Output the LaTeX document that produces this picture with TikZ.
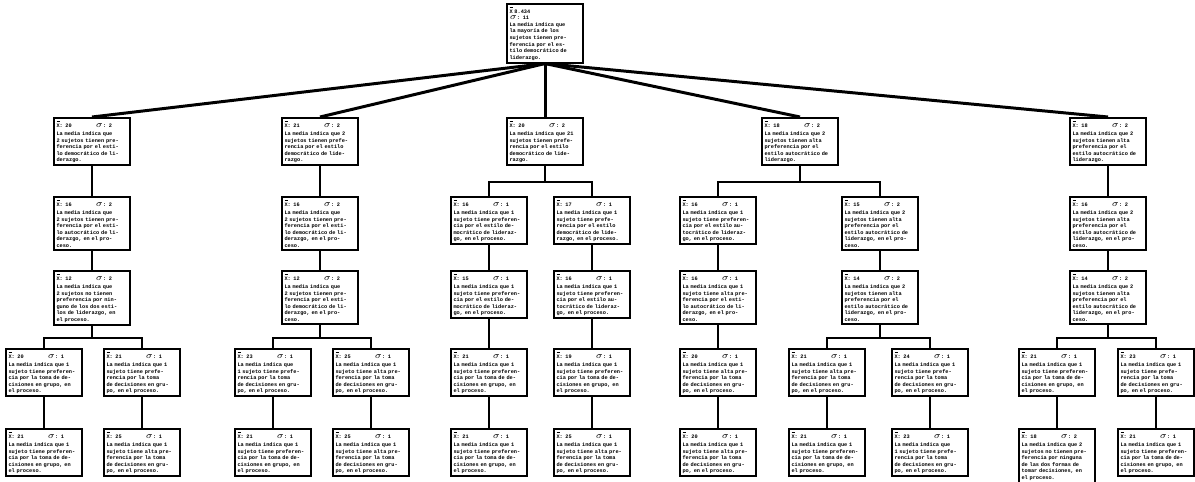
\documentclass[tikz,border=0pt]{standalone}
\usepackage{fontspec}
\setmonofont{Liberation Mono}
\usepackage{tikz}
\usetikzlibrary{positioning}

\newcommand{\encab}[2]{\makebox[0.55\linewidth][l]{$\overline{\mbox{X}}$: #1}$\sigma$: #2\\[1pt]}

\begin{document}
\begin{tikzpicture}[x=0.02cm,y=-0.02cm,
    caja/.style={draw,line width=1pt,anchor=north,text width=1.42cm,inner sep=1.3pt,align=left,
                 font=\fontsize{3.0}{3.75}\selectfont\ttfamily\bfseries},
    link/.style={line width=1.3pt},
    fan/.style={line width=1.7pt}]
    \useasboundingbox (0,0) rectangle (1195,482);

    % Place nodes
    \node [caja] (root) at (545,3) {$\overline{\mbox{X}}$ 8.434\\ $\sigma$: 11\\ La media indica que\\ la mayor\'ia de los\\ sujetos tienen pre-\\ ferencia por el es-\\ tilo democr\'atico de\\ liderazgo.};

    % tree 1
    \node [caja] (t1a) at (92,117) {\encab{20}{2}La media indica que\\ 2 sujetos tienen pre-\\ ferencia por el esti-\\ lo democr\'atico de li-\\ derazgo.};
    \node [caja] (t1b) at (92,196) {\encab{16}{2}La media indica que\\ 2 sujetos tienen pre-\\ ferencia por el esti-\\ lo autocr\'atico de li-\\ derazgo, en el pro-\\ ceso.};
    \node [caja] (t1c) at (92,270) {\encab{12}{2}La media indica que\\ 2 sujetos no tienen\\ preferencia por nin-\\ guno de los dos esti-\\ los de liderazgo, en\\ el proceso.};
    \coordinate (b1) at (92,338);
    \node [caja] (t1d) at (44,348) {\encab{20}{1}La media indica que 1\\ sujeto tiene preferen-\\ cia por la toma de de-\\ cisiones en grupo, en\\ el proceso.};
    \node [caja] (t1e) at (142,348) {\encab{21}{1}La media indica que 1\\ sujeto tiene prefe-\\ rencia por la toma\\ de decisiones en gru-\\ po, en el proceso.};
    \node [caja] (t1f) at (44,428) {\encab{21}{1}La media indica que 1\\ sujeto tiene preferen-\\ cia por la toma de de-\\ cisiones en grupo, en\\ el proceso.};
    \node [caja] (t1g) at (142,428) {\encab{25}{1}La media indica que 1\\ sujeto tiene alta pre-\\ ferencia por la toma\\ de decisiones en gru-\\ po, en el proceso.};

    % tree 2
    \node [caja] (t2a) at (320,117) {\encab{21}{2}La media indica que 2\\ sujetos tienen prefe-\\ rencia por el estilo\\ democr\'atico de lide-\\ razgo.};
    \node [caja] (t2b) at (320,196) {\encab{16}{2}La media indica que\\ 2 sujetos tienen pre-\\ ferencia por el esti-\\ lo democr\'atico de li-\\ derazgo, en el pro-\\ ceso.};
    \node [caja] (t2c) at (320,270) {\encab{12}{2}La media indica que\\ 2 sujetos tienen pre-\\ ferencia por el esti-\\ lo democr\'atico de li-\\ derazgo, en el pro-\\ ceso.};
    \coordinate (b2) at (320,338);
    \node [caja] (t2d) at (273,348) {\encab{23}{1}La media indica que\\ 1 sujeto tiene prefe-\\ rencia por la toma\\ de decisiones en gru-\\ po, en el proceso.};
    \node [caja] (t2e) at (371,348) {\encab{25}{1}La media indica que 1\\ sujeto tiene alta pre-\\ ferencia por la toma\\ de decisiones en gru-\\ po, en el proceso.};
    \node [caja] (t2f) at (273,428) {\encab{21}{1}La media indica que 1\\ sujeto tiene preferen-\\ cia por la toma de de-\\ cisiones en grupo, en\\ el proceso.};
    \node [caja] (t2g) at (371,428) {\encab{25}{1}La media indica que 1\\ sujeto tiene alta pre-\\ ferencia por la toma\\ de decisiones en gru-\\ po, en el proceso.};

    % tree 3
    \node [caja] (t3a) at (545,117) {\encab{20}{2}La media indica que 21\\ sujetos tienen prefe-\\ rencia por el estilo\\ democr\'atico de lide-\\ razgo.};
    \coordinate (b3) at (545,182);
    \node [caja] (t3b) at (489,196) {\encab{16}{1}La media indica que 1\\ sujeto tiene preferen-\\ cia por el estilo de-\\ mocr\'atico de lideraz-\\ go, en el proceso.};
    \node [caja] (t3c) at (592,196) {\encab{17}{1}La media indica que 1\\ sujeto tiene prefe-\\ rencia por el estilo\\ democr\'atico de lide-\\ razgo, en el proceso.};
    \node [caja] (t3d) at (489,270) {\encab{15}{1}La media indica que 1\\ sujeto tiene preferen-\\ cia por el estilo de-\\ mocr\'atico de lideraz-\\ go, en el proceso.};
    \node [caja] (t3e) at (592,270) {\encab{16}{1}La media indica que 1\\ sujeto tiene preferen-\\ cia por el estilo au-\\ tocr\'atico de lideraz-\\ go, en el proceso.};
    \node [caja] (t3f) at (489,348) {\encab{21}{1}La media indica que 1\\ sujeto tiene preferen-\\ cia por la toma de de-\\ cisiones en grupo, en\\ el proceso.};
    \node [caja] (t3g) at (592,348) {\encab{19}{1}La media indica que 1\\ sujeto tiene preferen-\\ cia por la toma de de-\\ cisiones en grupo, en\\ el proceso.};
    \node [caja] (t3h) at (489,428) {\encab{21}{1}La media indica que 1\\ sujeto tiene preferen-\\ cia por la toma de de-\\ cisiones en grupo, en\\ el proceso.};
    \node [caja] (t3i) at (592,428) {\encab{25}{1}La media indica que 1\\ sujeto tiene alta pre-\\ ferencia por la toma\\ de decisiones en gru-\\ po, en el proceso.};

    % tree 4
    \node [caja] (t4a) at (800,117) {\encab{18}{2}La media indica que 2\\ sujetos tienen alta\\ preferencia por el\\ estilo autocr\'atico de\\ liderazgo.};
    \coordinate (b4) at (800,182);
    \node [caja] (t4b) at (718,196) {\encab{16}{1}La media indica que 1\\ sujeto tiene preferen-\\ cia por el estilo au-\\ tocr\'atico de lideraz-\\ go, en el proceso.};
    \node [caja] (t4c) at (880,196) {\encab{15}{2}La media indica que 2\\ sujetos tienen alta\\ preferencia por el\\ estilo autocr\'atico de\\ liderazgo, en el pro-\\ ceso.};
    \node [caja] (t4d) at (718,270) {\encab{16}{1}La media indica que 1\\ sujeto tiene alta pre-\\ ferencia por el esti-\\ lo autocr\'atico de li-\\ derazgo, en el pro-\\ ceso.};
    \node [caja] (t4e) at (880,270) {\encab{14}{2}La media indica que 2\\ sujetos tienen alta\\ preferencia por el\\ estilo autocr\'atico de\\ liderazgo, en el pro-\\ ceso.};
    \coordinate (b5) at (880,338);
    \node [caja] (t4f) at (718,348) {\encab{20}{1}La media indica que 1\\ sujeto tiene alta pre-\\ ferencia por la toma\\ de decisiones en gru-\\ po, en el proceso.};
    \node [caja] (t4g) at (827,348) {\encab{21}{1}La media indica que 1\\ sujeto tiene alta pre-\\ ferencia por la toma\\ de decisiones en gru-\\ po, en el proceso.};
    \node [caja] (t4h) at (930,348) {\encab{24}{1}La media indica que 1\\ sujeto tiene prefe-\\ rencia por la toma\\ de decisiones en gru-\\ po, en el proceso.};
    \node [caja] (t4i) at (718,428) {\encab{20}{1}La media indica que 1\\ sujeto tiene alta pre-\\ ferencia por la toma\\ de decisiones en gru-\\ po, en el proceso.};
    \node [caja] (t4j) at (827,428) {\encab{21}{1}La media indica que 1\\ sujeto tiene preferen-\\ cia por la toma de de-\\ cisiones en grupo, en\\ el proceso.};
    \node [caja] (t4k) at (930,428) {\encab{23}{1}La media indica que\\ 1 sujeto tiene prefe-\\ rencia por la toma\\ de decisiones en gru-\\ po, en el proceso.};

    % tree 5
    \node [caja] (t5a) at (1108,117) {\encab{18}{2}La media indica que 2\\ sujetos tienen alta\\ preferencia por el\\ estilo autocr\'atico de\\ liderazgo.};
    \node [caja] (t5b) at (1108,196) {\encab{16}{2}La media indica que 2\\ sujetos tienen alta\\ preferencia por el\\ estilo autocr\'atico de\\ liderazgo, en el pro-\\ ceso.};
    \node [caja] (t5c) at (1108,270) {\encab{14}{2}La media indica que 2\\ sujetos tienen alta\\ preferencia por el\\ estilo autocr\'atico de\\ liderazgo, en el pro-\\ ceso.};
    \coordinate (b6) at (1108,338);
    \node [caja] (t5d) at (1057,348) {\encab{21}{1}La media indica que 1\\ sujeto tiene preferen-\\ cia por la toma de de-\\ cisiones en grupo, en\\ el proceso.};
    \node [caja] (t5e) at (1156,348) {\encab{23}{1}La media indica que 1\\ sujeto tiene prefe-\\ rencia por la toma\\ de decisiones en gru-\\ po, en el proceso.};
    \node [caja] (t5f) at (1057,428) {\encab{18}{2}La media indica que 2\\ sujetos no tienen pre-\\ ferencia por ninguna\\ de las dos formas de\\ tomar decisiones, en\\ el proceso.};
    \node [caja] (t5g) at (1156,428) {\encab{21}{1}La media indica que 1\\ sujeto tiene preferen-\\ cia por la toma de de-\\ cisiones en grupo, en\\ el proceso.};

    % root to first level
    \foreach \t in {t1a,t2a,t3a,t4a,t5a}
        \draw [fan] (root.south) -- (\t.north);

    % tree 1
    \draw [link] (t1a) -- (t1b);
    \draw [link] (t1b) -- (t1c);
    \draw [link] (t1c) -- (b1);
    \draw [link] (t1d.north) |- (b1) -| (t1e.north);
    \draw [link] (t1d) -- (t1f);
    \draw [link] (t1e) -- (t1g);

    % tree 2
    \draw [link] (t2a) -- (t2b);
    \draw [link] (t2b) -- (t2c);
    \draw [link] (t2c) -- (b2);
    \draw [link] (t2d.north) |- (b2) -| (t2e.north);
    \draw [link] (t2d) -- (t2f);
    \draw [link] (t2e) -- (t2g);

    % tree 3
    \draw [link] (t3a) -- (b3);
    \draw [link] (t3b.north) |- (b3) -| (t3c.north);
    \draw [link] (t3b) -- (t3d);
    \draw [link] (t3c) -- (t3e);
    \draw [link] (t3d) -- (t3f);
    \draw [link] (t3e) -- (t3g);
    \draw [link] (t3f) -- (t3h);
    \draw [link] (t3g) -- (t3i);

    % tree 4
    \draw [link] (t4a) -- (b4);
    \draw [link] (t4b.north) |- (b4) -| (t4c.north);
    \draw [link] (t4b) -- (t4d);
    \draw [link] (t4c) -- (t4e);
    \draw [link] (t4d) -- (t4f);
    \draw [link] (t4e) -- (b5);
    \draw [link] (t4g.north) |- (b5) -| (t4h.north);
    \draw [link] (t4f) -- (t4i);
    \draw [link] (t4g) -- (t4j);
    \draw [link] (t4h) -- (t4k);

    % tree 5
    \draw [link] (t5a) -- (t5b);
    \draw [link] (t5b) -- (t5c);
    \draw [link] (t5c) -- (b6);
    \draw [link] (t5d.north) |- (b6) -| (t5e.north);
    \draw [link] (t5d) -- (t5f);
    \draw [link] (t5e) -- (t5g);
\end{tikzpicture}
\end{document}
